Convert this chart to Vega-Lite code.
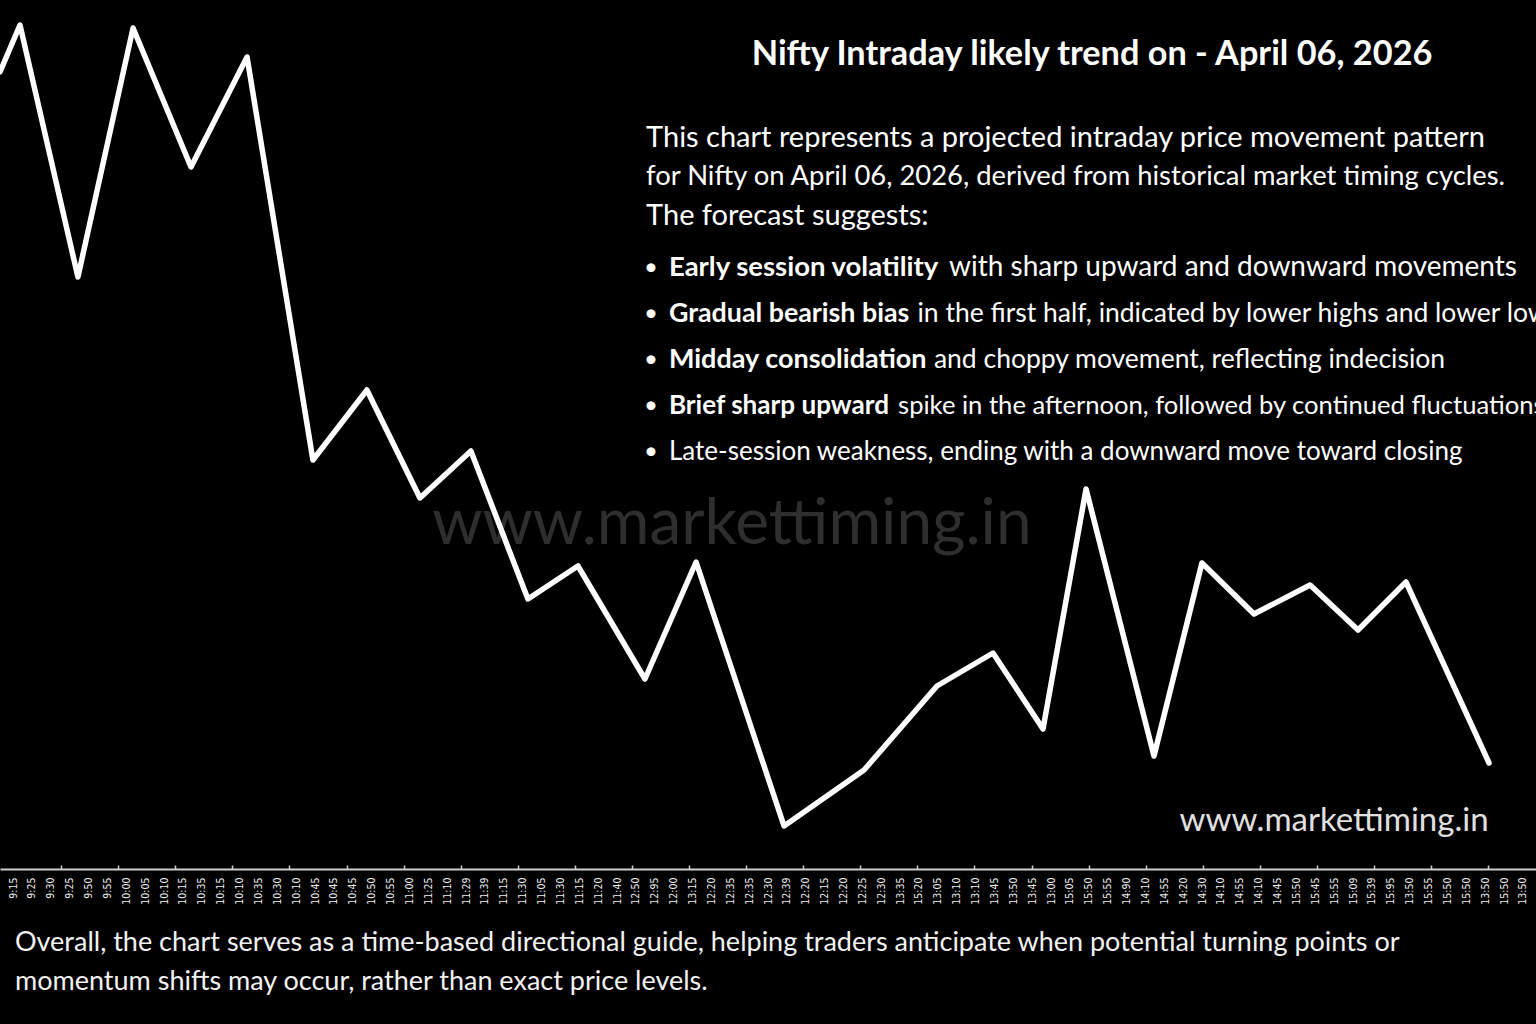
{
  "$schema": "https://vega.github.io/schema/vega-lite/v6.json",
  "width": 1536,
  "height": 869,
  "autosize": {"type": "none"},
  "padding": {"left": 0, "top": 0, "right": 0, "bottom": 155},
  "background": "#000000",
  "config": {"view": {"stroke": null}, "font": "Lato", "text": {"font": "Lato", "color": "#ffffff", "baseline": "middle"}},
  "params": [
    {"name": "lbl", "value": ["9:15","9:25","9:30","9:25","9:50","9:55","10:00","10:05","10:10","10:15","10:35","10:15","10:10","10:35","10:30","10:10","10:45","10:45","10:45","10:50","10:55","11:00","11:25","11:10","11:29","11:39","11:15","11:30","11:05","11:30","11:15","11:20","11:40","12:50","12:95","12:00","13:15","12:20","12:35","12:35","12:30","12:39","12:20","12:15","12:20","12:25","12:30","13:35","15:20","13:05","13:10","13:10","13:45","13:50","13:45","13:00","15:05","15:50","15:55","14:90","14:10","14:55","14:20","14:30","14:10","14:55","14:10","14:45","15:50","15:45","15:55","15:09","15:39","15:95","13:50","15:55","15:50","15:50","13:50","15:50","13:50"]}
  ],
  "resolve": {"axis": {"x": "independent"}},
  "layer": [
    {
      "data": {"values": [{"t": "www.markettiming.in"}]},
      "mark": {"type": "text", "fontSize": 64, "color": "#2e2e2e", "align": "center"},
      "encoding": {
        "x": {"datum": 38.09, "type": "quantitative", "axis": {
          "orient": "bottom",
          "values": [2.54, 5.57, 8.59, 11.62, 14.64, 17.67, 20.69, 23.72, 26.74, 29.77, 32.79, 35.82, 38.84, 41.87, 44.89, 47.92, 50.94, 53.97, 56.99, 60.02, 63.04, 66.07, 69.09, 72.12, 75.14, 78.17],
          "labels": false, "domain": false, "grid": false, "title": null,
          "ticks": true, "tickSize": -4, "tickWidth": 1.5, "tickColor": "#cfcfcf"
        }},
        "y": {"datum": 344, "type": "quantitative", "axis": null},
        "text": {"field": "t", "type": "nominal"}
      }
    },
    {
      "data": {"values": [
        {"slot": -0.69, "level": 797},
        {"slot": 0.37, "level": 844},
        {"slot": 3.44, "level": 592},
        {"slot": 6.36, "level": 841},
        {"slot": 9.43, "level": 702},
        {"slot": 12.40, "level": 812},
        {"slot": 15.89, "level": 409},
        {"slot": 18.75, "level": 479},
        {"slot": 21.56, "level": 371},
        {"slot": 24.26, "level": 418},
        {"slot": 27.28, "level": 270},
        {"slot": 29.93, "level": 303},
        {"slot": 33.48, "level": 190},
        {"slot": 36.19, "level": 307},
        {"slot": 40.85, "level": 43},
        {"slot": 45.09, "level": 99},
        {"slot": 48.95, "level": 183},
        {"slot": 51.92, "level": 216},
        {"slot": 54.57, "level": 140},
        {"slot": 56.85, "level": 380},
        {"slot": 60.45, "level": 113},
        {"slot": 62.99, "level": 306},
        {"slot": 65.75, "level": 255},
        {"slot": 68.72, "level": 284},
        {"slot": 71.26, "level": 239},
        {"slot": 73.80, "level": 287},
        {"slot": 78.20, "level": 106}
      ]},
      "mark": {"type": "line", "color": "#ffffff", "strokeWidth": 5.5, "strokeJoin": "round", "strokeCap": "round", "clip": true},
      "encoding": {
        "x": {
          "field": "slot", "type": "quantitative",
          "scale": {"domain": [-0.689, 80.689], "nice": false, "zero": false},
          "axis": {
            "orient": "bottom",
            "values": [0,1,2,3,4,5,6,7,8,9,10,11,12,13,14,15,16,17,18,19,20,21,22,23,24,25,26,27,28,29,30,31,32,33,34,35,36,37,38,39,40,41,42,43,44,45,46,47,48,49,50,51,52,53,54,55,56,57,58,59,60,61,62,63,64,65,66,67,68,69,70,71,72,73,74,75,76,77,78,79,80],
            "labelExpr": "lbl[datum.value]",
            "labelAngle": -90, "labelAlign": "right", "labelBaseline": "middle",
            "labelFont": "DejaVu Sans Condensed", "labelFontSize": 10.5, "labelColor": "#eeeeee",
            "labelPadding": 8, "labelOverlap": false, "labelFlush": false, "labelBound": false,
            "ticks": false, "grid": false, "title": null,
            "domainColor": "#cfcfcf", "domainWidth": 2
          }
        },
        "y": {"field": "level", "type": "quantitative", "scale": {"domain": [0, 869], "nice": false, "zero": false}, "axis": null},
        "order": {"field": "slot", "type": "quantitative"}
      }
    },
    {
      "data": {"values": [{"t": "Nifty Intraday likely trend on - April 06, 2026"}]},
      "mark": {"type": "text", "fontSize": 34.3, "fontWeight": "bold", "align": "center"},
      "encoding": {
        "x": {"datum": 57.17, "type": "quantitative", "axis": null},
        "y": {"datum": 814, "type": "quantitative", "axis": null},
        "text": {"field": "t", "type": "nominal"}
      }
    },
    {
      "data": {"values": [{"t": "This chart represents a projected intraday price movement pattern"}]},
      "mark": {"type": "text", "fontSize": 29, "align": "left"},
      "encoding": {
        "x": {"datum": 33.54, "type": "quantitative", "axis": null},
        "y": {"datum": 731, "type": "quantitative", "axis": null},
        "text": {"field": "t", "type": "nominal"}
      }
    },
    {
      "data": {"values": [{"t": "for Nifty on April 06, 2026, derived from historical market timing cycles."}]},
      "mark": {"type": "text", "fontSize": 27.4, "align": "left"},
      "encoding": {
        "x": {"datum": 33.54, "type": "quantitative", "axis": null},
        "y": {"datum": 692, "type": "quantitative", "axis": null},
        "text": {"field": "t", "type": "nominal"}
      }
    },
    {
      "data": {"values": [{"t": "The forecast suggests:"}]},
      "mark": {"type": "text", "fontSize": 29, "align": "left"},
      "encoding": {
        "x": {"datum": 33.54, "type": "quantitative", "axis": null},
        "y": {"datum": 653, "type": "quantitative", "axis": null},
        "text": {"field": "t", "type": "nominal"}
      }
    },
    {
      "data": {"values": [{"t": "•\n•\n•\n•\n•"}]},
      "mark": {"type": "text", "fontSize": 24, "align": "center", "lineBreak": "\n", "lineHeight": 46},
      "encoding": {
        "x": {"datum": 33.8, "type": "quantitative", "axis": null},
        "y": {"datum": 601, "type": "quantitative", "axis": null},
        "text": {"field": "t", "type": "nominal"}
      }
    },
    {
      "data": {"values": [{"t": "Early session volatility"}]},
      "mark": {"type": "text", "fontSize": 27.5, "fontWeight": "bold", "align": "left"},
      "encoding": {
        "x": {"datum": 34.75, "type": "quantitative", "axis": null},
        "y": {"datum": 601, "type": "quantitative", "axis": null},
        "text": {"field": "t", "type": "nominal"}
      }
    },
    {
      "data": {"values": [{"t": "with sharp upward and downward movements"}]},
      "mark": {"type": "text", "fontSize": 28, "align": "left"},
      "encoding": {
        "x": {"datum": 49.59, "type": "quantitative", "axis": null},
        "y": {"datum": 601, "type": "quantitative", "axis": null},
        "text": {"field": "t", "type": "nominal"}
      }
    },
    {
      "data": {"values": [{"t": "Gradual bearish bias"}]},
      "mark": {"type": "text", "fontSize": 26.8, "fontWeight": "bold", "align": "left"},
      "encoding": {
        "x": {"datum": 34.75, "type": "quantitative", "axis": null},
        "y": {"datum": 555, "type": "quantitative", "axis": null},
        "text": {"field": "t", "type": "nominal"}
      }
    },
    {
      "data": {"values": [{"t": "in the first half, indicated by lower highs and lower lows"}]},
      "mark": {"type": "text", "fontSize": 26.5, "align": "left"},
      "encoding": {
        "x": {"datum": 47.92, "type": "quantitative", "axis": null},
        "y": {"datum": 555, "type": "quantitative", "axis": null},
        "text": {"field": "t", "type": "nominal"}
      }
    },
    {
      "data": {"values": [{"t": "Midday consolidation"}]},
      "mark": {"type": "text", "fontSize": 27, "fontWeight": "bold", "align": "left"},
      "encoding": {
        "x": {"datum": 34.75, "type": "quantitative", "axis": null},
        "y": {"datum": 509, "type": "quantitative", "axis": null},
        "text": {"field": "t", "type": "nominal"}
      }
    },
    {
      "data": {"values": [{"t": "and choppy movement, reflecting indecision"}]},
      "mark": {"type": "text", "fontSize": 26.5, "align": "left"},
      "encoding": {
        "x": {"datum": 48.79, "type": "quantitative", "axis": null},
        "y": {"datum": 509, "type": "quantitative", "axis": null},
        "text": {"field": "t", "type": "nominal"}
      }
    },
    {
      "data": {"values": [{"t": "Brief sharp upward"}]},
      "mark": {"type": "text", "fontSize": 26.1, "fontWeight": "bold", "align": "left"},
      "encoding": {
        "x": {"datum": 34.75, "type": "quantitative", "axis": null},
        "y": {"datum": 463, "type": "quantitative", "axis": null},
        "text": {"field": "t", "type": "nominal"}
      }
    },
    {
      "data": {"values": [{"t": "spike in the afternoon, followed by continued fluctuations"}]},
      "mark": {"type": "text", "fontSize": 25.6, "align": "left"},
      "encoding": {
        "x": {"datum": 46.89, "type": "quantitative", "axis": null},
        "y": {"datum": 463, "type": "quantitative", "axis": null},
        "text": {"field": "t", "type": "nominal"}
      }
    },
    {
      "data": {"values": [{"t": "Late-session weakness, ending with a downward move toward closing"}]},
      "mark": {"type": "text", "fontSize": 26, "align": "left"},
      "encoding": {
        "x": {"datum": 34.75, "type": "quantitative", "axis": null},
        "y": {"datum": 417, "type": "quantitative", "axis": null},
        "text": {"field": "t", "type": "nominal"}
      }
    },
    {
      "data": {"values": [{"t": "Overall, the chart serves as a time-based directional guide, helping traders anticipate when potential turning points or\nmomentum shifts may occur, rather than exact price levels."}]},
      "mark": {"type": "text", "fontSize": 27, "color": "#f2f2f2", "align": "left", "lineBreak": "\n", "lineHeight": 39},
      "encoding": {
        "x": {"datum": 0.106, "type": "quantitative", "axis": null},
        "y": {"datum": -74, "type": "quantitative", "axis": null},
        "text": {"field": "t", "type": "nominal"}
      }
    },
    {
      "data": {"values": [{"t": "www.markettiming.in"}]},
      "mark": {"type": "text", "fontSize": 33, "color": "#e0e0e0", "align": "center"},
      "encoding": {
        "x": {"datum": 69.99, "type": "quantitative", "axis": null},
        "y": {"datum": 48, "type": "quantitative", "axis": null},
        "text": {"field": "t", "type": "nominal"}
      }
    }
  ]
}
